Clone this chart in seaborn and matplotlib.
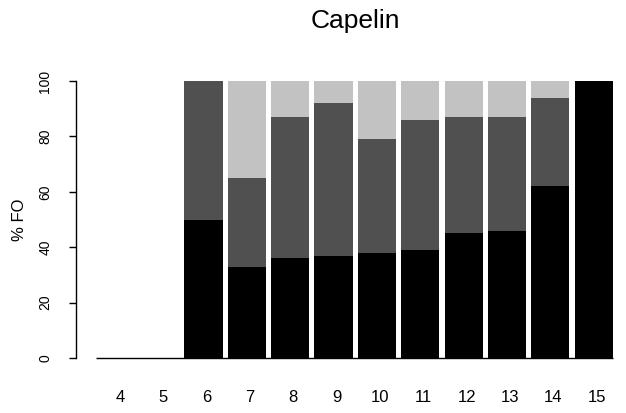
import matplotlib
matplotlib.use("Agg")
import matplotlib.pyplot as plt
import matplotlib.transforms as mtransforms
import seaborn as sns
import pandas as pd
import numpy as np

# Percent frequency of occurrence by length class
lengths = [4, 5, 6, 7, 8, 9, 10, 11, 12, 13, 14, 15]
black_pct = [0, 0, 50, 33, 36, 37, 38, 39, 45, 46, 62, 100]
dark_pct = [0, 0, 50, 32, 51, 55, 41, 47, 42, 41, 32, 0]
light_pct = [0, 0, 0, 35, 13, 8, 21, 14, 13, 13, 6, 0]

sns.set_theme(style="white")
plt.rcParams["font.family"] = ["Liberation Sans", "DejaVu Sans"]

df = pd.DataFrame({
    "length": [str(v) for v in lengths],
    "black": black_pct,
    "dark": dark_pct,
    "light": light_pct,
})
df["cum_dark"] = df["black"] + df["dark"]
df["cum_light"] = df["cum_dark"] + df["light"]
order = df["length"].tolist()

fig = plt.figure(figsize=(6.26, 4.13), dpi=100)
ax = fig.add_axes([76 / 626, 1 - 358 / 413, (618 - 76) / 626, (358 - 81) / 413])

bar_w = 0.88
# stacked bars drawn as overlaid cumulative totals
sns.barplot(data=df, x="length", y="cum_light", order=order, color="#c2c2c2",
            width=bar_w, linewidth=0, saturation=1, ax=ax)
sns.barplot(data=df, x="length", y="cum_dark", order=order, color="#505050",
            width=bar_w, linewidth=0, saturation=1, ax=ax)
sns.barplot(data=df, x="length", y="black", order=order, color="#000000",
            width=bar_w, linewidth=0, saturation=1, ax=ax)

# baseline under all classes
ax.hlines(0, -0.48, len(order) - 1 + bar_w / 2, color="black", lw=1.0, clip_on=False)

ax.set_xlim(-0.94, 11.56)
ax.set_ylim(0, 100)

for s in ["top", "right", "bottom"]:
    ax.spines[s].set_visible(False)
ax.spines["left"].set_color("black")
ax.spines["left"].set_linewidth(1.0)
ax.spines["left"].set_bounds(0, 100)

ax.set_yticks([0, 20, 40, 60, 80, 100])
ax.tick_params(axis="y", left=True, length=5, width=1.0, color="black",
               labelsize=10, pad=12, labelcolor="black")
for lab in ax.get_yticklabels():
    lab.set_rotation(90)
    lab.set_va("center")

ax.tick_params(axis="x", bottom=False, length=0, labelsize=12, pad=23, labelcolor="black")
# nudge category labels slightly to the right
shift = mtransforms.ScaledTranslation(3 / 100, 0, fig.dpi_scale_trans)
for lab in ax.get_xticklabels():
    lab.set_transform(lab.get_transform() + shift)

ax.set_xlabel("")
ax.set_ylabel("% FO", fontsize=12, color="black")
ax.yaxis.set_label_coords(-0.09, 0.5)

ax.set_title("Capelin", fontsize=19, pad=38, x=0.515, color="black")

fig.savefig("out.png", dpi=100)
